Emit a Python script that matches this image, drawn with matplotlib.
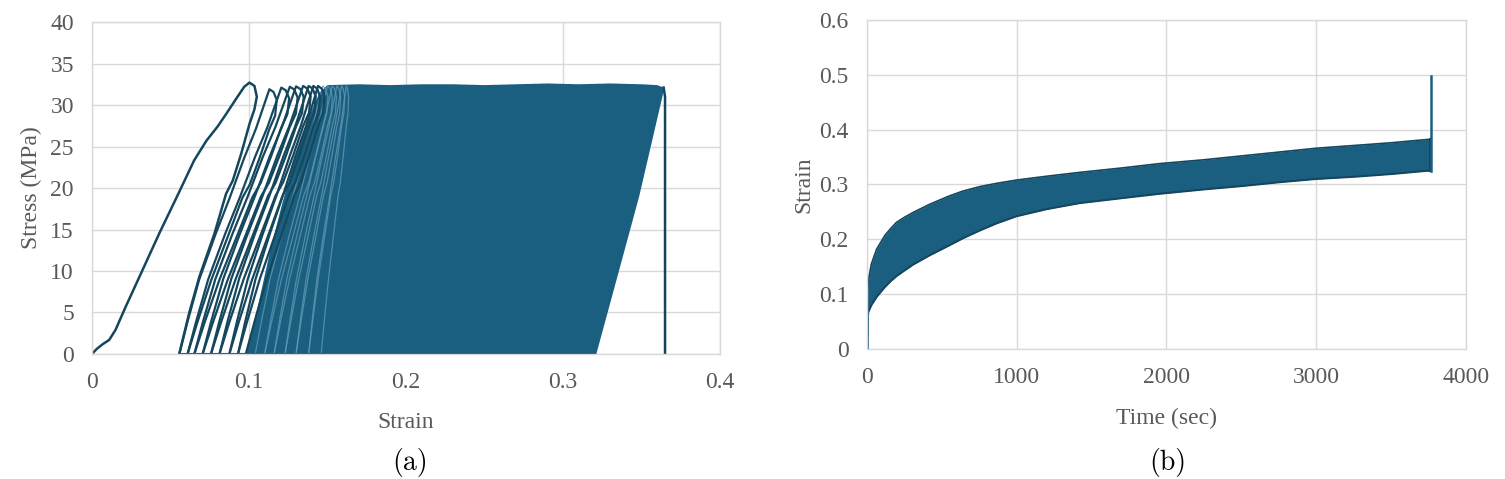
import numpy as np
import matplotlib
matplotlib.use("Agg")
import matplotlib.pyplot as plt

plt.rcParams['font.family'] = ['Liberation Serif', 'DejaVu Serif']

# ---------------- data: (a) stress-strain loops ----------------
# virgin loading curve + first unloading
first_strain = [0, 0.003, 0.007, 0.011, 0.015, 0.0215, 0.03, 0.0428, 0.055, 0.065,
                0.0729, 0.08, 0.0854, 0.092, 0.097, 0.1003, 0.1035, 0.105, 0.1035,
                0.1003, 0.095, 0.0897, 0.0854, 0.078, 0.0684, 0.062, 0.0556]
first_stress = [0, 0.6, 1.2, 1.7, 2.9, 5.7, 9.2, 14.5, 19.3, 23.3,
                25.7, 27.4, 28.9, 30.8, 32.2, 32.7, 32.3, 31.0, 29.5,
                27.7, 24.1, 20.9, 19.3, 14.5, 9.3, 5.0, 0]

# later distinguishable loops: valley strains (stress = 0) and peaks
loop_valley = [0.0556, 0.0609, 0.0652, 0.0705, 0.0758, 0.0812, 0.0875, 0.093, 0.098]
loop_peak_strain = [0.113, 0.1206, 0.126, 0.130, 0.1345, 0.138, 0.141, 0.144]
loop_peak_stress = [31.9, 32.1, 32.2, 32.25, 32.3, 32.3, 32.3, 32.3]

# faint loops showing through the dense block
faint_valley = [0.104, 0.11, 0.116, 0.123, 0.13, 0.138, 0.146]
faint_peak_strain = [0.147, 0.15, 0.153, 0.156, 0.159, 0.162]
faint_peak_stress = [32.3, 32.3, 32.3, 32.3, 32.3, 32.3]

# branch shape (fraction of stress / fraction of width)
reload_g = [0, 0.12, 0.28, 0.45, 0.59, 0.74, 0.85, 0.93, 0.98, 1.0]
reload_f = [0, 0.09, 0.22, 0.40, 0.56, 0.72, 0.85, 0.93, 0.98, 1.0]
unload_g = [1.0, 0.99, 0.96, 0.90, 0.85, 0.74, 0.64, 0.59, 0.45, 0.28, 0.12, 0]
unload_f = [1.0, 1.05, 1.09, 1.07, 1.0, 0.88, 0.76, 0.67, 0.50, 0.29, 0.12, 0]

# dense (saturated) block of cycles, outline
block_strain = [0.098, 0.106, 0.113, 0.121, 0.13, 0.138, 0.145, 0.15, 0.17, 0.19,
                0.21, 0.23, 0.25, 0.27, 0.29, 0.31, 0.33, 0.35, 0.36, 0.3641,
                0.348, 0.3335, 0.3207]
block_stress = [0, 6, 12, 18, 24, 28.5, 31.5, 32.4, 32.5, 32.4,
                32.5, 32.5, 32.4, 32.5, 32.6, 32.5, 32.6, 32.5, 32.4, 32.1,
                19, 8.9, 0]

# final failure drop
drop_strain = [0.3641, 0.365, 0.365]
drop_stress = [32.1, 31.0, 0]

# ---------------- data: (b) strain vs time ----------------
time_s = [0, 5, 10, 30, 65, 120, 160, 198, 250, 309, 420, 550, 642, 753, 865, 998,
          1200, 1420, 1700, 1953, 2250, 2500, 2750, 2998, 3250, 3500, 3742, 3760]
strain_upper = [0, 0.10, 0.125, 0.155, 0.182, 0.207, 0.22, 0.231, 0.24, 0.249, 0.264,
                0.279, 0.288, 0.296, 0.302, 0.308, 0.315, 0.322, 0.33, 0.338, 0.345,
                0.352, 0.359, 0.366, 0.371, 0.376, 0.382, 0.382]
strain_lower = [0, 0.055, 0.068, 0.08, 0.095, 0.113, 0.124, 0.133, 0.143, 0.154, 0.171,
                0.189, 0.202, 0.216, 0.229, 0.242, 0.255, 0.266, 0.275, 0.283, 0.291,
                0.297, 0.304, 0.31, 0.314, 0.319, 0.325, 0.325]
spike_time = [3765, 3765]
spike_strain = [0.325, 0.497]

fill_col = '#1b5f80'
line_col = '#14475d'
faint_col = '#5f97b1'
grid_col = '#d9d9d9'
txt_col = '#595959'

fig = plt.figure(figsize=(15.05, 4.79), dpi=100)
ax1 = fig.add_axes([0.0611, 0.261, 0.4173, 0.693])
ax2 = fig.add_axes([0.576, 0.2714, 0.398, 0.687])


def style(ax):
    ax.grid(True, color=grid_col, lw=1.0)
    ax.set_axisbelow(True)
    for s in ax.spines.values():
        s.set_color(grid_col)
        s.set_linewidth(1.0)
    ax.tick_params(length=0, labelsize=17, labelcolor=txt_col, pad=13)


def loop_xy(v, w, p, s):
    xs = [v + f * (p - v) for f in reload_f] + [w + f * (p - w) for f in unload_f]
    ys = [g * s for g in reload_g] + [g * s for g in unload_g]
    return xs, ys


# ---- (a)
ax1.fill(block_strain, block_stress, color=fill_col, lw=0)
ax1.plot(block_strain[-4:], block_stress[-4:], color=fill_col, lw=1.2)
for k in range(len(faint_peak_strain)):
    xs, ys = loop_xy(faint_valley[k], faint_valley[k + 1],
                     faint_peak_strain[k], faint_peak_stress[k])
    ax1.plot(xs, ys, color=faint_col, lw=0.9, alpha=0.8)
ax1.plot([0.0556, 0.3207], [0, 0], color=line_col, lw=1.5)
ax1.plot(first_strain, first_stress, color=line_col, lw=1.8, solid_joinstyle='round')
for k in range(len(loop_peak_strain)):
    xs, ys = loop_xy(loop_valley[k], loop_valley[k + 1],
                     loop_peak_strain[k], loop_peak_stress[k])
    ax1.plot(xs, ys, color=line_col, lw=1.6, solid_joinstyle='round')
ax1.plot(drop_strain, drop_stress, color=line_col, lw=1.8)

ax1.set_xlim(0, 0.4)
ax1.set_ylim(0, 40)
ax1.set_xticks([0, 0.1, 0.2, 0.3, 0.4])
ax1.set_xticklabels(['0', '0.1', '0.2', '0.3', '0.4'])
ax1.set_yticks(range(0, 41, 5))
style(ax1)
ax1.set_xlabel('Strain', fontsize=17, color=txt_col, labelpad=14)
ax1.set_ylabel('Stress (MPa)', fontsize=17, color=txt_col, labelpad=6)

# ---- (b)
ax2.fill_between(time_s, strain_lower, strain_upper, color=fill_col, lw=0)
ax2.plot(time_s, strain_upper, color=line_col, lw=1.2)
ax2.plot(time_s, strain_lower, color=line_col, lw=1.5)
ax2.plot([time_s[-1], time_s[-1]], [strain_lower[-1], strain_upper[-1]], color=line_col, lw=1.5)
ax2.plot(spike_time, spike_strain, color=fill_col, lw=1.8)
ax2.plot([time_s[0] + 4, time_s[0] + 4], [0, 0.07], color=fill_col, lw=2)

ax2.set_xlim(0, 4000)
ax2.set_ylim(0, 0.6)
ax2.set_xticks([0, 1000, 2000, 3000, 4000])
ax2.set_yticks([0, 0.1, 0.2, 0.3, 0.4, 0.5, 0.6])
ax2.set_yticklabels(['0', '0.1', '0.2', '0.3', '0.4', '0.5', '0.6'])
style(ax2)
ax2.set_xlabel('Time (sec)', fontsize=17, color=txt_col, labelpad=14)
ax2.set_ylabel('Strain', fontsize=17, color=txt_col, labelpad=4)

fig.text(0.2724, 0.035, '(a)', fontsize=20, family='cmr10', ha='center', va='center')
fig.text(0.776, 0.035, '(b)', fontsize=20, family='cmr10', ha='center', va='center')

fig.savefig('out.png', dpi=100)
